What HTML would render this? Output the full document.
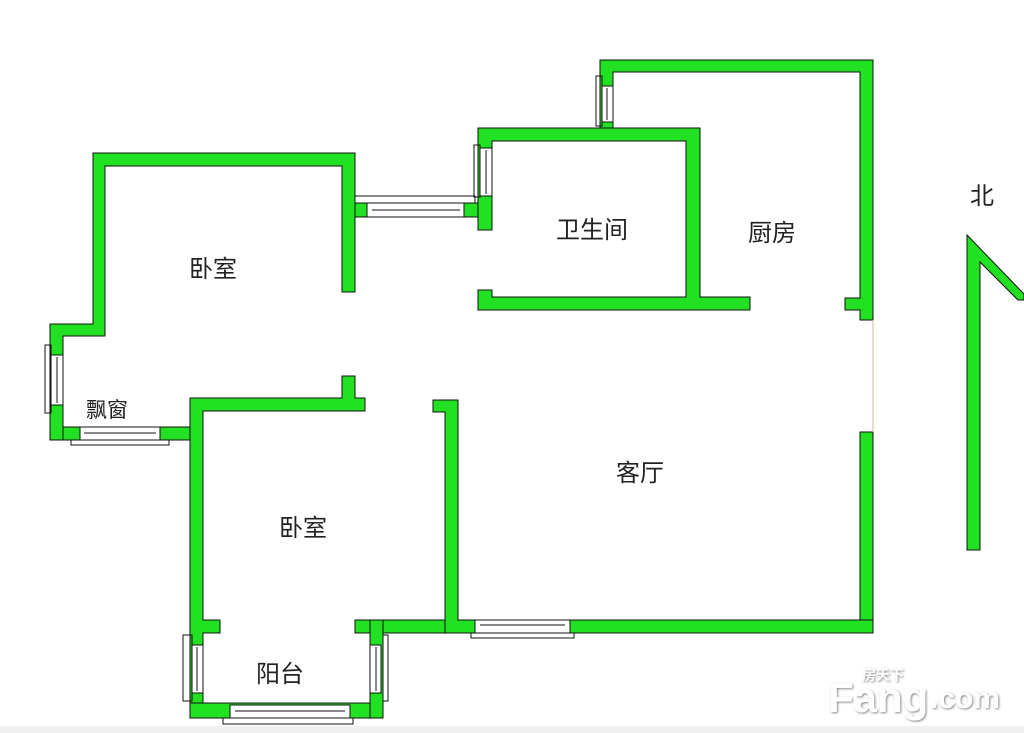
<!DOCTYPE html>
<html><head><meta charset="utf-8"><style>
html,body{margin:0;padding:0;background:#fff;}
svg{display:block}
text{font-family:"Liberation Sans","Noto Sans CJK SC",sans-serif;fill:#222}
</style></head><body>
<svg width="1024" height="733" viewBox="0 0 1024 733" xmlns="http://www.w3.org/2000/svg">
<rect width="1024" height="733" fill="#fff"/>
<g fill="#22e022" stroke="#111" stroke-width="1">
<path d="M93,153 H355 V292 H342 V166 H105 V336 H63 V440 H50 V324 H93 Z"/>
<rect x="355" y="203" width="12" height="14"/>
<rect x="464" y="203" width="14" height="14"/>
<path d="M478,128 H700 V297 H750 V310 H478 V290 H492 V297 H686 V141 H492 V230 H478 Z"/>
<path d="M600,60 H873 V320 H860 V310 H845 V298 H860 V72 H613 V128 H600 Z"/>
<rect x="860" y="432" width="13" height="201"/>
<path d="M190,398 H342 V376 H355 V398 H365 V411 H203 V620 H220 V633 H203 V703 H190 Z"/>
<rect x="63" y="427" width="127" height="13"/>
<rect x="355" y="620" width="100" height="13"/>
<path d="M433,400 H458 V620 H873 V633 H445 V412 H433 Z"/>
<path d="M190,703 H383 V633 H370 V705 H190 Z"/>
<rect x="190" y="703" width="193" height="15"/>
<rect x="370" y="620" width="13" height="98"/>
<path d="M967,235 L1024,294 L1024,300 L1018,300 L980,262 V550 H967 Z"/>
</g>
<g fill="#fff" stroke="#111" stroke-width="1">
<rect x="367" y="203" width="97" height="14"/><line x1="372" y1="210" x2="460" y2="210"/>
<rect x="355" y="196" width="120" height="7" fill="none"/>
<rect x="480" y="148" width="12" height="48"/><line x1="486" y1="150" x2="486" y2="194"/>
<rect x="474" y="145" width="6" height="52" fill="none"/>
<rect x="602" y="86" width="11" height="36"/><line x1="607" y1="88" x2="607" y2="120"/>
<rect x="596" y="76" width="6" height="50" fill="none"/>
<rect x="51" y="355" width="12" height="50"/><line x1="57" y1="357" x2="57" y2="403"/>
<rect x="45" y="345" width="6" height="68" fill="none"/>
<rect x="80" y="427" width="80" height="13"/><line x1="84" y1="433" x2="156" y2="433"/>
<rect x="71" y="440" width="98" height="5" fill="none"/>
<rect x="475" y="620" width="95" height="13"/><line x1="480" y1="625" x2="565" y2="625"/>
<rect x="471" y="633" width="103" height="5" fill="none"/>
<rect x="192" y="645" width="11" height="48"/><line x1="197" y1="647" x2="197" y2="691"/>
<rect x="183" y="635" width="9" height="66" fill="none"/>
<rect x="370" y="645" width="11" height="48"/><line x1="376" y1="647" x2="376" y2="691"/>
<rect x="383" y="635" width="5" height="66" fill="none"/>
<rect x="230" y="705" width="120" height="13"/><line x1="235" y1="711" x2="345" y2="711"/>
<rect x="223" y="718" width="130" height="6" fill="none"/>
</g>
<line x1="873" y1="320" x2="873" y2="432" stroke="#c8c090" stroke-width="1"/>
<g font-size="24" text-anchor="middle">
<text x="213" y="277">卧室</text>
<text x="303" y="536">卧室</text>
<text x="592" y="238">卫生间</text>
<text x="772" y="241">厨房</text>
<text x="640" y="481">客厅</text>
<text x="280" y="682">阳台</text>
<text x="982" y="204">北</text>
</g>
<text x="107" y="417" font-size="21" text-anchor="middle">飘窗</text>
<g style="filter:drop-shadow(1px 1px 1px #888)">
<text x="828" y="712" font-size="42" font-weight="bold" style="fill:#fff">Fang</text>
<text x="930" y="708" font-size="30" font-weight="bold" style="fill:#fff">.com</text>
<text x="862" y="680" font-size="14" font-weight="bold" style="fill:#fff">房天下</text>
</g>
<rect x="0" y="726" width="1024" height="7" fill="#f0f0f0"/>
</svg>
</body></html>
